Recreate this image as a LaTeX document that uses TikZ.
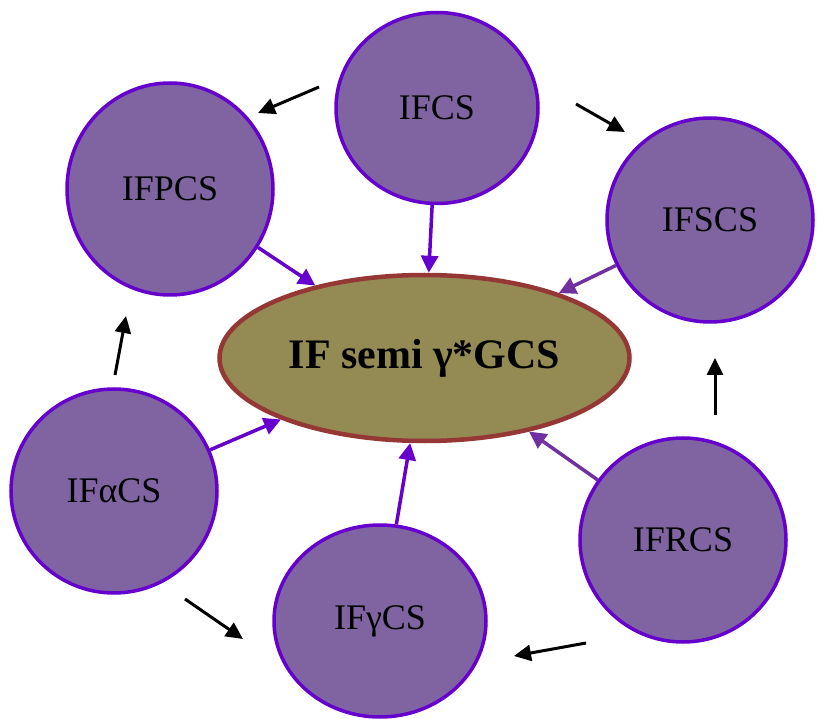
\documentclass[tikz,border=0pt]{standalone}
\usepackage{fontspec}
\setmainfont{Liberation Serif}
\usetikzlibrary{shapes.geometric,arrows.meta}

\definecolor{circfill}{HTML}{8064A2}
\definecolor{circline}{HTML}{6600CC}
\definecolor{hubfill}{HTML}{948A54}
\definecolor{hubline}{HTML}{953735}
\definecolor{linkdark}{HTML}{7030A0}

\tikzset{
  circ/.style={ellipse, draw=circline, fill=circfill, line width=3.5pt, inner sep=0pt,
    font=\fontsize{36}{40}\selectfont},
  hub/.style={ellipse, draw=hubline, fill=hubfill, line width=4.5pt, inner sep=0pt,
    minimum width=410pt, minimum height=166pt, font=\fontsize{42}{46}\selectfont\bfseries},
  link/.style={draw=circline, line width=3.5pt, -{Triangle[length=17pt,width=17pt]}},
  flow/.style={draw=black, line width=3pt, -{Triangle[length=17pt,width=16pt]}}
}

\begin{document}
\begin{tikzpicture}[x=1pt,y=-1pt]
	\useasboundingbox (0,0) rectangle (817,719);
	
	% centre
	\node[hub] (main) at (424.5,358) {IF semi γ*GCS};
	
	% the six classes round it
	\node[circ, minimum width=202pt, minimum height=191pt] (ifcs) at (437,108) {IFCS};
	\node[circ, minimum width=206pt, minimum height=212pt] (ifpcs) at (170,189) {IFPCS};
	\node[circ, minimum width=206pt, minimum height=204pt] (ifscs) at (710,220) {IFSCS};
	\node[circ, minimum width=206pt, minimum height=204pt] (ifacs) at (114,491) {IFαCS};
	\node[circ, minimum width=212pt, minimum height=192pt] (ifgcs) at (380,621) {IFγCS};
	\node[circ, minimum width=206pt, minimum height=204pt] (ifrcs) at (683,540) {IFRCS};
	
	% into the centre
	\draw[link] (ifcs) -- (main);
	\draw[link] (ifpcs) -- (main);
	\draw[link, draw=linkdark, {Triangle[length=17pt,width=17pt]}-] (main) -- (ifscs);
	\draw[link] (ifacs) -- (main);
	\draw[link] (ifgcs) -- (main);
	\draw[link, draw=linkdark, {Triangle[length=17pt,width=17pt]}-] (main) -- (ifrcs);
	
	% free arrows between the classes
	\coordinate (c1s) at (319,87);  \coordinate (c1e) at (258,113);
	\coordinate (c2s) at (576,104); \coordinate (c2e) at (625,132);
	\coordinate (c3s) at (715,415); \coordinate (c3e) at (715,358);
	\coordinate (c4s) at (586,643); \coordinate (c4e) at (514,656);
	\coordinate (c5s) at (185,599); \coordinate (c5e) at (243,639);
	\coordinate (c6s) at (115,375); \coordinate (c6e) at (126,316);
	\draw[flow] (c1s) -- (c1e);
	\draw[flow] (c2s) -- (c2e);
	\draw[flow] (c3s) -- (c3e);
	\draw[flow] (c4s) -- (c4e);
	\draw[flow] (c5s) -- (c5e);
	\draw[flow] (c6s) -- (c6e);
\end{tikzpicture}
\end{document}
